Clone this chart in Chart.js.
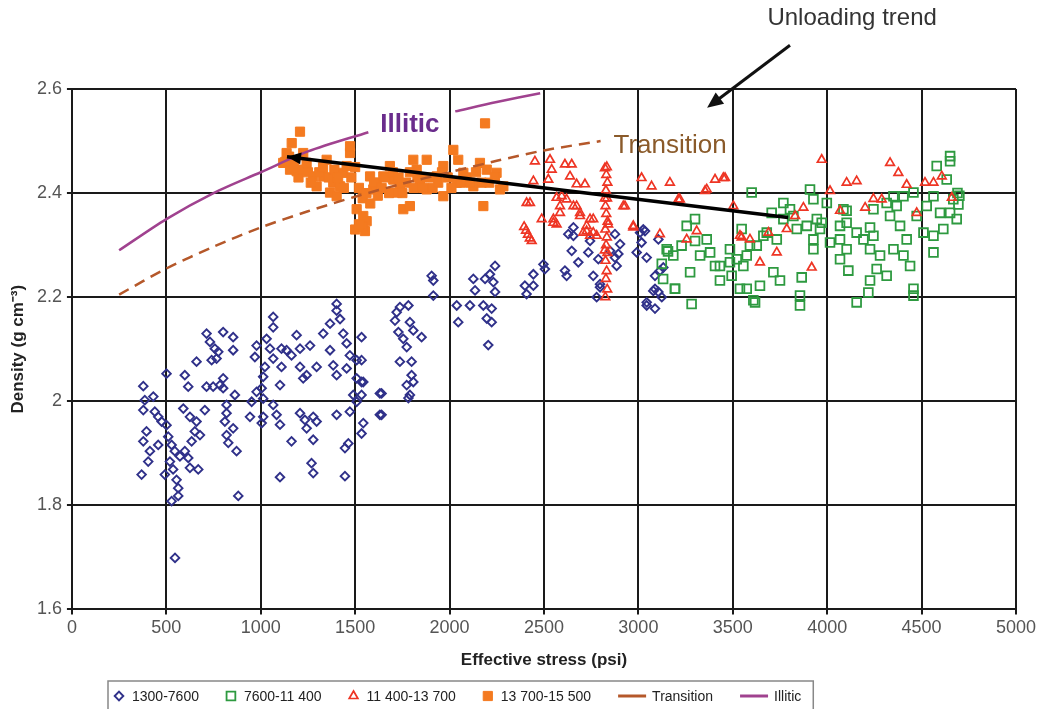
<!DOCTYPE html>
<html lang="en">
<head>
<meta charset="UTF-8">
<title>Density vs effective stress</title>
<script src="https://cdn.jsdelivr.net/npm/chart.js"></script>
<style>
  html, body { margin: 0; padding: 0; background: #fff; }
  canvas { display: block; }
</style>
</head>
<body>
<canvas id="chart" width="1041" height="709"></canvas>
<script>
// axis ticks
const xTicks = [0, 500, 1000, 1500, 2000, 2500, 3000, 3500, 4000, 4500, 5000];
const yTicks = [1.6, 1.8, 2, 2.2, 2.4, 2.6];
const yTickLabels = ['1.6', '1.8', '2', '2.2', '2.4', '2.6'];

const seriesNames = ['1300-7600', '7600-11 400', '11 400-13 700', '13 700-15 500', 'Transition', 'Illitic'];

// depth 1300-7600 (effective stress psi, density)
const d1300 = [
  [378,2.029],[431,2.009],[386,2.002],[378,1.983],[439,1.980],[457,1.970],[475,1.961],[501,1.954],[395,1.942],[378,1.923],
  [413,1.904],[404,1.884],[457,1.916],[510,1.932],[528,1.916],[545,1.904],[572,1.894],[598,1.904],[616,1.891],[625,1.872],
  [669,1.869],[519,1.884],[536,1.869],[492,1.859],[554,1.849],[563,1.833],[563,1.818],[528,1.808],[369,1.859],[501,2.053],
  [598,2.050],[616,2.028],[660,2.076],[713,2.028],[748,2.028],[784,2.031],[801,2.044],[801,2.025],[863,2.012],[713,2.130],
  [731,2.114],[757,2.101],[775,2.095],[740,2.079],[766,2.082],[801,2.133],[854,2.123],[854,2.098],[590,1.986],[625,1.970],
  [660,1.961],[651,1.942],[634,1.923],[678,1.935],[704,1.983],[819,1.993],[819,1.977],[810,1.961],[854,1.948],[819,1.935],
  [828,1.920],[872,1.904],[881,1.818],[952,1.999],[978,2.018],[1005,2.025],[1013,2.005],[943,1.970],[1013,1.970],[1005,1.958],
  [1102,1.955],[1163,1.923],[1102,1.854],[1066,2.162],[1066,2.142],[1031,2.120],[978,2.107],[969,2.085],[1022,2.066],[1066,2.082],
  [1110,2.066],[1102,2.031],[1066,1.993],[1084,1.974],[1013,2.047],[1049,2.101],[1110,2.101],[1137,2.098],[1163,2.088],[1190,2.127],
  [1208,2.101],[1261,2.107],[1208,2.066],[1243,2.050],[1296,2.066],[1225,2.044],[1208,1.977],[1234,1.964],[1278,1.970],[1296,1.961],
  [1243,1.948],[1278,1.926],[1269,1.881],[1278,1.862],[1331,2.130],[1367,2.149],[1402,2.187],[1402,2.174],[1420,2.158],[1367,2.098],
  [1384,2.069],[1402,2.050],[1437,2.130],[1455,2.111],[1472,2.088],[1508,2.079],[1534,2.123],[1455,2.063],[1508,2.044],[1543,2.037],
  [1490,2.012],[1508,1.999],[1472,1.980],[1402,1.974],[1543,1.958],[1534,1.938],[1464,1.919],[1446,1.910],[1446,1.856],[1631,1.974],
  [1631,2.015],[546,1.699],
  [1737,2.181],[1782,2.184],[1720,2.171],[1711,2.155],[1790,2.152],[1808,2.136],[1729,2.133],[1755,2.120],[1852,2.123],[1773,2.104],
  [1737,2.076],[1799,2.076],[1799,2.050],[1773,2.031],[1808,2.037],[1790,2.012],[1782,2.006],[1640,2.015],[1534,2.079],[1534,2.037],
  [1534,2.012],[1640,1.974],[1905,2.241],[1914,2.232],[1914,2.203],[2038,2.184],[2046,2.152],[2108,2.184],[2126,2.235],[2135,2.213],
  [2188,2.235],[2214,2.244],[2241,2.260],[2232,2.229],[2241,2.210],[2179,2.184],[2223,2.178],[2197,2.159],[2223,2.152],[2205,2.108],
  [2399,2.222],[2444,2.222],[2408,2.206],[2444,2.244],[2497,2.263],[2505,2.254],[2611,2.251],[2620,2.241],[2656,2.334],[2629,2.321],
  [2656,2.318],[2647,2.289],[2682,2.267],[2735,2.286],[2744,2.308],[2788,2.273],[2761,2.241],[2797,2.225],[2779,2.200],[2876,2.321],
  [2903,2.302],[2894,2.283],[2876,2.276],[2885,2.260],[2850,2.289],[2797,2.219],[2991,2.286],[3017,2.305],[3035,2.327],[3009,2.324],
  [3106,2.311],[3044,2.276],[3088,2.241],[3115,2.251],[3132,2.257],[3088,2.216],[3124,2.200],[3044,2.184],[3088,2.178],[3106,2.210],
  [3026,2.330],[3079,2.212],[3044,2.190]
];

// depth 7600-11 400
const d7600 = [
  [3256,2.337],[3300,2.350],[3150,2.292],[3185,2.280],[3274,2.248],[3194,2.216],[3282,2.187],[3362,2.311],[3380,2.286],[3432,2.260],
  [3432,2.232],[3485,2.292],[3485,2.267],[3547,2.331],[3600,2.401],[3574,2.216],[3609,2.194],[3644,2.222],[3574,2.280],[3627,2.299],
  [3662,2.318],[3706,2.362],[3733,2.311],[3715,2.248],[3750,2.232],[3768,2.381],[3803,2.369],[3865,2.238],[3856,2.203],[3856,2.184],
  [3909,2.407],[3927,2.388],[3892,2.337],[3945,2.350],[3927,2.311],[3962,2.331],[4015,2.305],[3927,2.292],[4086,2.369],[4103,2.343],
  [4068,2.311],[4103,2.292],[4068,2.273],[4112,2.251],[4227,2.334],[4245,2.318],[4227,2.292],[4280,2.280],[4262,2.254],[4227,2.232],
  [4218,2.209],[4315,2.241],[4351,2.292],[4333,2.356],[4368,2.375],[4404,2.394],[4386,2.337],[4421,2.311],[4404,2.280],[4439,2.260],
  [4457,2.216],[4457,2.203],[4474,2.356],[4510,2.324],[4527,2.375],[4563,2.394],[4598,2.362],[4563,2.318],[4563,2.286],[4615,2.331],
  [4580,2.452],[4651,2.471],[4651,2.461],[4633,2.426],[4668,2.388],[4695,2.378],[4686,2.350],[4651,2.362],[4245,2.369],[4315,2.381],
  [4351,2.394],[4457,2.401],[4192,2.311],[4156,2.324],[3998,2.381],[3971,2.343],[4068,2.337],[4103,2.366],[3821,2.356],[3839,2.331],
  [3768,2.350],[3680,2.324],[3591,2.299],[3521,2.273],[3556,2.260],[3494,2.241],[3538,2.216],[3618,2.190],[3406,2.260],[3327,2.280],
  [3124,2.264],[3229,2.299],[3300,2.308],[4156,2.190],[3157,2.288],[3131,2.235],[3194,2.216],[4700,2.395],[4690,2.40]
];

// depth 11 400-13 700
const d11400 = [
  [2452,2.461],[2532,2.464],[2541,2.445],[2523,2.426],[2444,2.423],[2426,2.381],[2488,2.350],[2550,2.350],[2567,2.340],[2585,2.375],
  [2620,2.388],[2611,2.455],[2647,2.455],[2638,2.432],[2673,2.417],[2717,2.417],[2673,2.375],[2691,2.356],[2726,2.337],[2761,2.350],
  [2744,2.318],[2779,2.318],[2708,2.324],[2594,2.394],[2567,2.391],[2823,2.448],[2920,2.375],[2973,2.334],[3017,2.429],[3070,2.413],
  [3167,2.420],[3220,2.388],[3114,2.321],[3309,2.327],[3256,2.311],[3362,2.407],[3406,2.426],[3459,2.429],[3503,2.375],[3538,2.318],
  [2825,2.200],[2835,2.215],[2828,2.235],[2832,2.250],[2826,2.270],[2836,2.285],[2829,2.300],[2833,2.315],[2825,2.330],[2837,2.345],
  [2830,2.360],[2826,2.375],[2834,2.390],[2828,2.405],[2836,2.420],[2830,2.435],[2833,2.450],[2822,2.290],[2840,2.340],[2822,2.390],
  [2395,2.335],[2405,2.328],[2415,2.320],[2425,2.313],[2435,2.308],
  [2408,2.381],[2550,2.343],[2585,2.362],[2656,2.375],[2691,2.362],[2744,2.350],[2761,2.324],[2726,2.327],[2973,2.337],[2929,2.375],
  [3212,2.388],[3353,2.404],[3450,2.429],[3547,2.315],[3591,2.311],[3689,2.324],[3733,2.286],[3644,2.267],[3786,2.331],[3830,2.356],
  [3874,2.372],[3918,2.257],[3971,2.464],[4015,2.404],[4068,2.366],[4103,2.420],[4156,2.423],[4201,2.372],[4245,2.389],[4289,2.388],
  [4333,2.458],[4377,2.439],[4421,2.416],[4518,2.420],[4563,2.420],[4607,2.432],[4474,2.362],[4660,2.391]
];

// depth 13 700-15 500
const d13700 = [
  [1208,2.518],[1164,2.496],[1137,2.477],[1119,2.458],[1155,2.445],[1190,2.442],[1225,2.477],[1243,2.458],[1278,2.432],[1296,2.413],
  [1349,2.464],[1331,2.432],[1384,2.420],[1367,2.401],[1420,2.413],[1437,2.439],[1473,2.477],[1473,2.490],[1455,2.452],[1402,2.394],
  [1508,2.369],[1543,2.356],[1561,2.346],[1552,2.327],[1579,2.432],[1596,2.407],[1614,2.420],[1649,2.432],[1684,2.452],[1702,2.426],
  [1737,2.413],[1720,2.401],[1755,2.369],[1790,2.375],[1808,2.464],[1826,2.445],[1843,2.426],[1879,2.464],[1879,2.407],[1932,2.432],
  [1967,2.394],[1967,2.452],[2020,2.483],[2046,2.464],[2038,2.420],[2073,2.439],[2126,2.413],[2161,2.458],[2197,2.445],[2249,2.439],
  [2285,2.413],[2267,2.407],[2179,2.375],[2188,2.534],
  [1130,2.460],[1150,2.470],[1175,2.455],[1200,2.430],[1220,2.445],[1250,2.440],[1265,2.420],[1310,2.440],[1330,2.450],[1360,2.430],
  [1390,2.445],[1410,2.430],[1440,2.410],[1480,2.430],[1500,2.450],[1520,2.410],[1540,2.390],[1560,2.400],[1580,2.380],[1600,2.420],
  [1620,2.395],[1640,2.410],[1660,2.430],[1680,2.400],[1700,2.440],[1730,2.430],[1750,2.400],[1770,2.420],[1790,2.440],[1810,2.410],
  [1830,2.430],[1860,2.410],[1890,2.430],[1910,2.410],[1940,2.420],[1960,2.440],[1990,2.430],[2010,2.410],[2060,2.420],[2090,2.430],
  [2110,2.420],[2140,2.440],[2170,2.420],[2210,2.420],[2240,2.430],[1500,2.330],[1540,2.335],[1520,2.340]
];

// trend curves
const transitionCurve = [[250,2.205],[500,2.255],[750,2.297],[1000,2.334],[1250,2.365],[1500,2.393],[1750,2.418],[2000,2.44],[2250,2.462],[2500,2.482],[2800,2.50]];
const illiticCurve = [[250,2.29],[500,2.35],[750,2.40],[1000,2.44],[1250,2.48],[1570,2.517],[1800,null],[2030,2.557],[2250,2.575],[2480,2.592]];
const unloadingTrend = [[3793,2.353],[1139,2.47]];

// annotation anchors (data units)
const unloadingLabel = { text: 'Unloading trend', x: 4132, y: 2.736 };
const unloadingArrow = { from: [3803, 2.684], to: [3364, 2.564] };
const illiticLabel = { text: 'Illitic', x: 1790, y: 2.531 };
const transitionLabel = { text: 'Transition', x: 3168, y: 2.491 };

const FONT = '"Liberation Sans", Arial, sans-serif';
const toXY = a => a.map(([x, y]) => ({ x, y }));

function arrowHead(ctx, x0, y0, x1, y1, len, half) {
  const a = Math.atan2(y1 - y0, x1 - x0);
  ctx.beginPath();
  ctx.moveTo(x1, y1);
  ctx.lineTo(x1 - len * Math.cos(a) + half * Math.sin(a), y1 - len * Math.sin(a) - half * Math.cos(a));
  ctx.lineTo(x1 - len * Math.cos(a) - half * Math.sin(a), y1 - len * Math.sin(a) + half * Math.cos(a));
  ctx.closePath();
  ctx.fill();
}

function marker(ctx, ds, x, y) {
  const r = ds.pointRadius;
  ctx.beginPath();
  if (ds.pointStyle === 'rectRot') {
    ctx.moveTo(x - r, y); ctx.lineTo(x, y - r); ctx.lineTo(x + r, y); ctx.lineTo(x, y + r); ctx.closePath();
  } else if (ds.pointStyle === 'triangle') {
    ctx.moveTo(x, y - r); ctx.lineTo(x + r * 0.866, y + r * 0.5); ctx.lineTo(x - r * 0.866, y + r * 0.5); ctx.closePath();
  } else {
    const s = r * Math.SQRT1_2;
    ctx.rect(x - s, y - s, 2 * s, 2 * s);
  }
  ctx.fillStyle = ds.backgroundColor;
  ctx.fill();
  ctx.lineWidth = ds.borderWidth;
  ctx.strokeStyle = ds.borderColor;
  ctx.stroke();
}

const overlay = {
  id: 'overlay',
  afterDatasetsDraw(chart) {
    const { ctx, scales: { x, y } } = chart;
    const px = v => x.getPixelForValue(v), py = v => y.getPixelForValue(v);
    ctx.save();
    // head of unloading trend
    ctx.fillStyle = '#000';
    const [a, b] = unloadingTrend;
    arrowHead(ctx, px(a[0]), py(a[1]), px(b[0]), py(b[1]), 14, 6);
    ctx.restore();
  },
  afterDraw(chart) {
    const { ctx, scales: { x, y } } = chart;
    const px = v => x.getPixelForValue(v), py = v => y.getPixelForValue(v);
    ctx.save();
    ctx.textAlign = 'center';
    ctx.textBaseline = 'middle';

    ctx.font = '24px ' + FONT;
    ctx.fillStyle = '#333';
    ctx.fillText(unloadingLabel.text, px(unloadingLabel.x), py(unloadingLabel.y));

    const f = unloadingArrow.from, t = unloadingArrow.to;
    const x0 = px(f[0]), y0 = py(f[1]), x1 = px(t[0]), y1 = py(t[1]);
    ctx.strokeStyle = '#111';
    ctx.fillStyle = '#111';
    ctx.lineWidth = 3;
    const ang = Math.atan2(y1 - y0, x1 - x0);
    ctx.beginPath();
    ctx.moveTo(x0, y0);
    ctx.lineTo(x1 - 10 * Math.cos(ang), y1 - 10 * Math.sin(ang));
    ctx.stroke();
    arrowHead(ctx, x0, y0, x1, y1, 16, 7);

    ctx.font = 'bold 26px ' + FONT;
    ctx.fillStyle = '#6a2c8c';
    ctx.fillText(illiticLabel.text, px(illiticLabel.x), py(illiticLabel.y));

    ctx.font = '26px ' + FONT;
    ctx.fillStyle = '#8a5a2a';
    ctx.fillText(transitionLabel.text, px(transitionLabel.x), py(transitionLabel.y));

    // legend, in series order
    const items = seriesNames.map(n => chart.data.datasets.find(d => d.label === n));
    const boxLeft = 108, boxTop = 681, boxH = 30;
    const cy = boxTop + boxH / 2;
    let cx = boxLeft + 6;
    ctx.font = '14px ' + FONT;
    ctx.textAlign = 'left';
    items.forEach(d => {
      if (d.showLine) {
        ctx.strokeStyle = d.borderColor;
        ctx.lineWidth = 3;
        ctx.beginPath();
        ctx.moveTo(cx, cy); ctx.lineTo(cx + 28, cy);
        ctx.stroke();
        cx += 34;
      } else {
        marker(ctx, d, cx + 5, cy);
        cx += 18;
      }
      ctx.fillStyle = '#222';
      ctx.fillText(d.label, cx, cy + 1);
      cx += ctx.measureText(d.label).width + 27;
    });
    ctx.strokeStyle = '#888';
    ctx.lineWidth = 1.5;
    ctx.strokeRect(boxLeft, boxTop, cx - 27 + 12 - boxLeft, boxH + 4);
    ctx.restore();
  }
};

new Chart(document.getElementById('chart'), {
  type: 'scatter',
  data: {
    datasets: [
      { type: 'line', label: 'Unloading trend', data: toXY(unloadingTrend), borderColor: '#000', borderWidth: 3.5,
        pointRadius: 0, showLine: true, order: 0 },
      { type: 'line', label: seriesNames[5], data: toXY(illiticCurve), borderColor: '#a0428f', borderWidth: 2.5,
        pointRadius: 0, showLine: true, spanGaps: false, tension: 0.3, order: 1 },
      { type: 'line', label: seriesNames[4], data: toXY(transitionCurve), borderColor: '#b5582a', borderWidth: 2.5,
        borderDash: [11, 7], pointRadius: 0, showLine: true, tension: 0.3, order: 2 },
      { label: seriesNames[3], data: toXY(d13700), pointStyle: 'rect', pointRadius: 6.5, borderWidth: 1,
        borderColor: '#f47a20', backgroundColor: '#f47a20', order: 3 },
      { label: seriesNames[2], data: toXY(d11400), pointStyle: 'triangle', pointRadius: 5, borderWidth: 1.7,
        borderColor: '#ee3524', backgroundColor: 'rgba(255,255,255,0)', order: 4 },
      { label: seriesNames[1], data: toXY(d7600), pointStyle: 'rect', pointRadius: 6.2, borderWidth: 1.8,
        borderColor: '#2e9a40', backgroundColor: 'rgba(255,255,255,0)', order: 5 },
      { label: seriesNames[0], data: toXY(d1300), pointStyle: 'rectRot', pointRadius: 4.3, borderWidth: 1.9,
        borderColor: '#30318a', backgroundColor: 'rgba(255,255,255,0)', order: 6 }
    ]
  },
  options: {
    responsive: false,
    animation: false,
    layout: { padding: { left: 3, right: 25, top: 89, bottom: 33 } },
    plugins: { legend: { display: false }, tooltip: { enabled: false } },
    scales: {
      x: {
        type: 'linear', min: 0, max: 5000,
        afterBuildTicks: s => { s.ticks = xTicks.map(v => ({ value: v })); },
        ticks: { font: { family: FONT, size: 18 }, color: '#555', padding: 3, maxRotation: 0,
          callback: (v, i) => String(xTicks[i]) },
        grid: { color: '#1a1a1a', lineWidth: 2, tickLength: 5 },
        border: { color: '#1a1a1a', width: 2 },
        title: { display: true, text: 'Effective stress (psi)', color: '#222',
          font: { family: FONT, size: 17, weight: 'bold' }, padding: { top: 7.8, bottom: 5.8 } }
      },
      y: {
        type: 'linear', min: 1.6, max: 2.6,
        afterBuildTicks: s => { s.ticks = yTicks.map(v => ({ value: v })); },
        ticks: { font: { family: FONT, size: 18 }, color: '#555', padding: 5,
          callback: (v, i) => yTickLabels[i] },
        grid: { color: '#1a1a1a', lineWidth: 2, tickLength: 5 },
        border: { color: '#1a1a1a', width: 2 },
        title: { display: true, text: 'Density (g cm⁻³)', color: '#222',
          font: { family: FONT, size: 17, weight: 'bold' }, padding: { top: 5, bottom: 3.5 } }
      }
    }
  },
  plugins: [overlay]
});
</script>
</body>
</html>
